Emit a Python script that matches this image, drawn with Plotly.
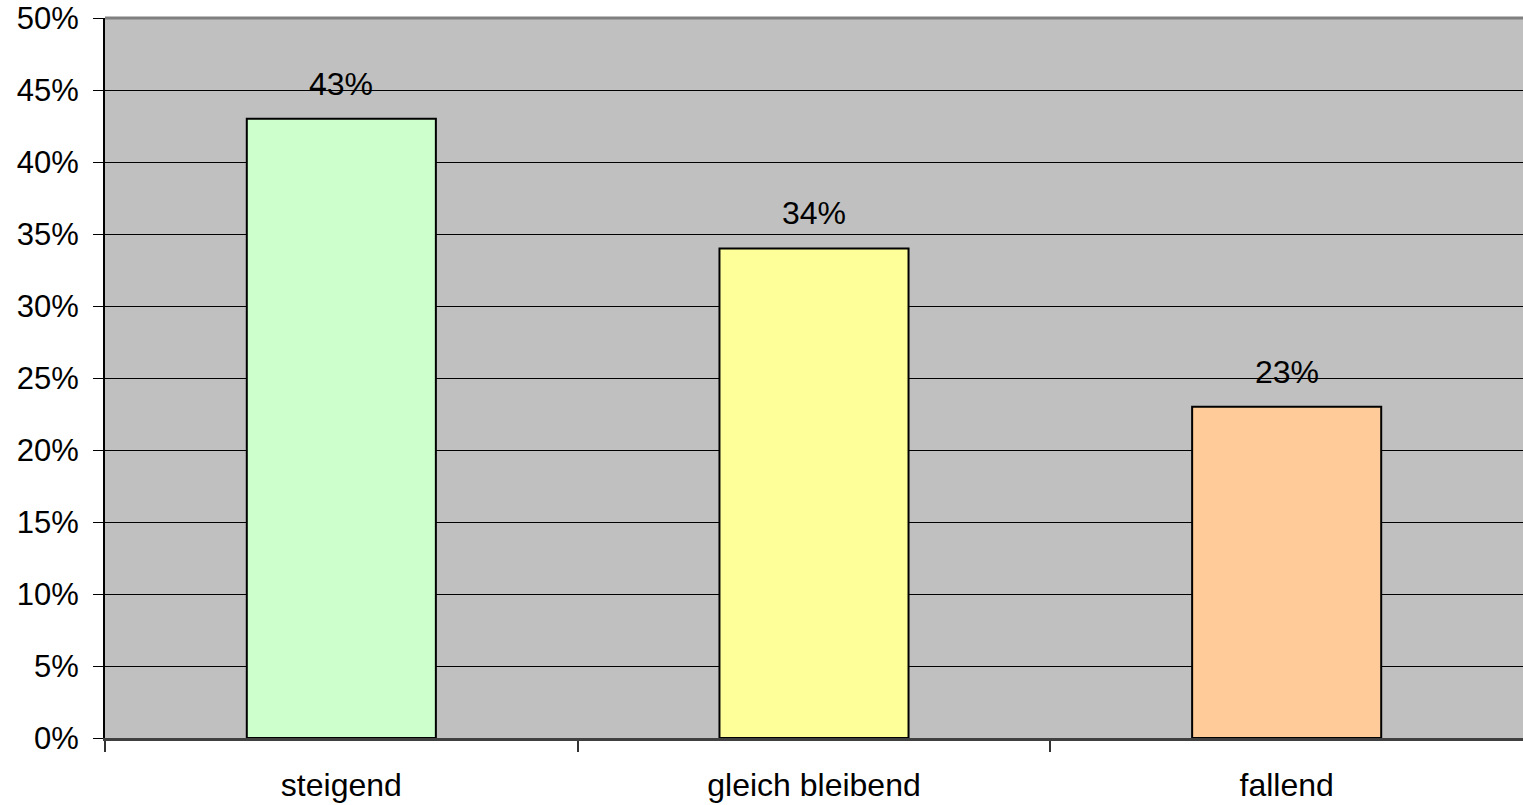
import plotly.graph_objects as go

# Survey result: expected trend, share of answers
categories = ["steigend", "gleich bleibend", "fallend"]
shares = [43, 34, 23]
bar_colors = ["#CCFFCC", "#FFFF99", "#FFCC99"]
y_ticks = [0, 5, 10, 15, 20, 25, 30, 35, 40, 45, 50]
y_tick_labels = [f"{v}%" for v in y_ticks]
boundaries = [-0.5, 0.5, 1.5]

positions = list(range(len(categories)))
FONT = "Liberation Sans, Arial, sans-serif"

fig = go.Figure()
fig.add_trace(go.Bar(
    x=positions,
    y=shares,
    width=0.4,
    marker=dict(color=bar_colors, line=dict(color="#000000", width=2)),
    hoverinfo="skip",
))

# value labels above each bar
for pos, val in zip(positions, shares):
    fig.add_annotation(
        x=pos, y=val, text=f"{val}%", showarrow=False,
        xanchor="center", yanchor="bottom", yshift=15,
        font=dict(family=FONT, size=32, color="#000000"),
    )

# grey frame line along the top of the plot area
fig.add_shape(type="line", xref="paper", yref="paper", x0=0, x1=1, y0=1, y1=1,
              line=dict(color="#808080", width=3))

fig.update_layout(
    template="none",
    width=1523, height=805,
    margin=dict(l=105, r=0, t=18, b=67, autoexpand=False),
    paper_bgcolor="#FFFFFF",
    plot_bgcolor="#C0C0C0",
    showlegend=False,
    font=dict(family=FONT, size=32, color="#000000"),
    xaxis=dict(
        automargin=False,
        range=[-0.5, 2.5],
        tickmode="array",
        tickvals=positions,
        ticktext=categories,
        ticks="",
        ticklabelstandoff=17,
        showgrid=False,
        zeroline=False,
        showline=True, linecolor="#404040", linewidth=3,
        minor=dict(tickmode="array", tickvals=boundaries, ticks="outside", ticklen=11,
                   tickcolor="#333333", tickwidth=2, showgrid=False),
        tickfont=dict(family=FONT, size=32, color="#000000"),
    ),
    yaxis=dict(
        automargin=False,
        range=[0, 50],
        tickmode="array",
        tickvals=y_ticks,
        ticktext=y_tick_labels,
        ticks="outside", ticklen=10, tickcolor="#000000", tickwidth=1,
        ticklabelstandoff=8,
        showgrid=True, gridcolor="#000000", gridwidth=1,
        zeroline=False,
        showline=True, linecolor="#000000", linewidth=2,
        tickfont=dict(family=FONT, size=31, color="#000000"),
    ),
)

fig.write_html("out.html")
